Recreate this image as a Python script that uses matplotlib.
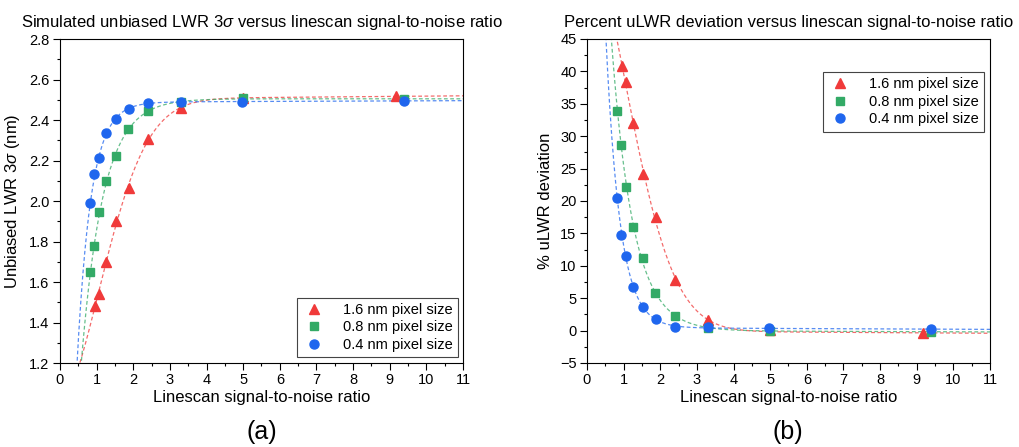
"""Unbiased LWR and % deviation versus linescan SNR, three pixel sizes."""
import numpy as np
import matplotlib
matplotlib.use("Agg")
import matplotlib.pyplot as plt

plt.rcParams["font.family"] = ["Liberation Sans", "DejaVu Sans"]
plt.rcParams["mathtext.fontset"] = "custom"
plt.rcParams["mathtext.it"] = "Liberation Sans:italic"
plt.rcParams["mathtext.rm"] = "Liberation Sans"

# linescan SNR of each simulated point
snr_16 = [0.945, 1.07, 1.265, 1.52, 1.87, 2.41, 3.30, 4.99, 9.16]
snr_08 = [0.83, 0.94, 1.07, 1.265, 1.52, 1.86, 2.40, 3.29, 4.99, 9.39]
snr_04 = [0.83, 0.94, 1.07, 1.265, 1.52, 1.87, 2.41, 3.29, 4.98, 9.39]

# (a) unbiased LWR 3sigma (nm)
lwr_16 = [1.483, 1.542, 1.700, 1.900, 2.063, 2.308, 2.459, 2.509, 2.517]
lwr_08 = [1.648, 1.779, 1.944, 2.097, 2.221, 2.354, 2.446, 2.487, 2.507, 2.504]
lwr_04 = [1.988, 2.133, 2.212, 2.334, 2.407, 2.456, 2.486, 2.487, 2.490, 2.495]

# (b) % uLWR deviation
dev_16 = [40.9, 38.4, 32.0, 24.2, 17.6, 7.8, 1.7, 0.05, -0.42]
dev_08 = [33.9, 28.7, 22.2, 16.0, 11.2, 5.8, 2.25, 0.4, 0.0, -0.17]
dev_04 = [20.4, 14.7, 11.5, 6.7, 3.7, 1.75, 0.56, 0.5, 0.4, 0.2]

labels = ["1.6 nm pixel size", "0.8 nm pixel size", "0.4 nm pixel size"]
colors = ["#f03a3a", "#33aa66", "#1f66ee"]
markers = ["^", "s", "o"]
msizes = [7.5, 5.5, 6.5]


def fit_curve(x, y):
    # y = a + b*x + c*exp(-k*x**p), grid over k, p; linear lstsq for the rest
    x = np.asarray(x, float); y = np.asarray(y, float)
    best = None
    for p in np.linspace(1.0, 2.5, 31):
        for k in np.linspace(0.05, 3.0, 150):
            M = np.column_stack([np.ones_like(x), x, np.exp(-k * x**p)])
            coef = np.linalg.lstsq(M, y, rcond=None)[0]
            r = np.sum((M @ coef - y) ** 2)
            if best is None or r < best[0]:
                best = (r, k, p, coef)
    _, k, p, c = best
    return lambda xx: c[0] + c[1] * xx + c[2] * np.exp(-k * xx**p)


def panel(ax, xs, ys, ylim, ystep, yminor, ylabel, title, legend_kw):
    xx = np.linspace(0.15, 11, 600)
    handles = []
    for x, y, col, mk, ms, lab in zip(xs, ys, colors, markers, msizes, labels):
        f = fit_curve(x, y)
        ax.plot(xx, f(xx), color=col, lw=0.9, alpha=0.75,
                linestyle=(0, (3, 2)), zorder=2)
        h, = ax.plot(x, y, linestyle="none", marker=mk, ms=ms, color=col,
                     mec=col, zorder=3, label=lab)
        handles.append(h)
    ax.set_xlim(0, 11)
    ax.set_ylim(*ylim)
    ax.set_xticks(np.arange(0, 12, 1))
    ax.set_xticks(np.arange(0, 11.01, 0.5), minor=True)
    ax.set_yticks(np.arange(ylim[0], ylim[1] + 1e-9, ystep))
    ax.set_yticks(np.arange(ylim[0], ylim[1] + 1e-9, yminor), minor=True)
    ax.tick_params(which="major", direction="out", length=5, width=0.8,
                   pad=2.5, labelsize=10.5, top=False, right=False)
    ax.tick_params(which="minor", direction="out", length=2.5, width=0.8,
                   top=False, right=False)
    for s in ax.spines.values():
        s.set_linewidth(0.8)
    ax.set_xlabel("Linescan signal-to-noise ratio", fontsize=12, labelpad=2)
    ax.set_ylabel(ylabel, fontsize=12, labelpad=5)
    ax.set_title(title, fontsize=12, pad=9)
    leg = ax.legend(handles=handles, fontsize=10.5, fancybox=False,
                    edgecolor="#444444", framealpha=1, handletextpad=1.2,
                    borderpad=0.35, labelspacing=0.25, handlelength=1.6,
                    borderaxespad=0, **legend_kw)
    leg.get_frame().set_linewidth(0.8)


fig = plt.figure(figsize=(10.2, 4.47), dpi=100)
ax1 = fig.add_axes([60 / 1020, 1 - 363 / 447, 403 / 1020, 324 / 447])
ax2 = fig.add_axes([587 / 1020, 1 - 363 / 447, 403 / 1020, 324 / 447])

panel(ax1, [snr_16, snr_08, snr_04], [lwr_16, lwr_08, lwr_04],
      (1.2, 2.8), 0.2, 0.1, r"Unbiased LWR 3$\it{\sigma}$ (nm)",
      r"Simulated unbiased LWR 3$\it{\sigma}$ versus linescan signal-to-noise ratio",
      dict(loc="lower right", bbox_to_anchor=(1 - 5 / 403, 6 / 324)))
panel(ax2, [snr_16, snr_08, snr_04], [dev_16, dev_08, dev_04],
      (-5, 45), 5, 2.5, "% uLWR deviation",
      "Percent uLWR deviation versus linescan signal-to-noise ratio",
      dict(loc="upper right", bbox_to_anchor=(1 - 6 / 403, 1 - 33 / 324)))

fig.text(262 / 1020, 1 - 432 / 447, "(a)", ha="center", va="center", fontsize=18)
fig.text(788 / 1020, 1 - 432 / 447, "(b)", ha="center", va="center", fontsize=18)

fig.savefig("out.png", dpi=100)
